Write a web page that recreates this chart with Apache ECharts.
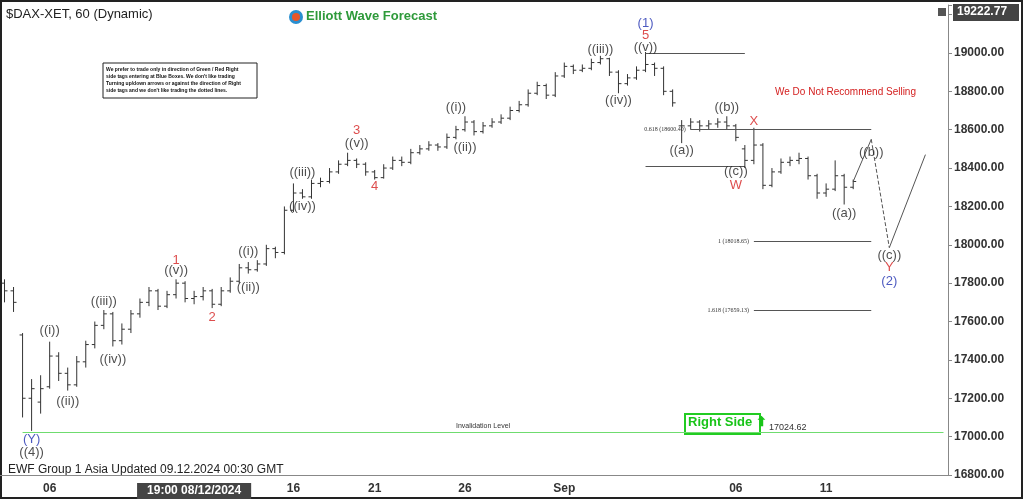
<!DOCTYPE html>
<html lang="en">
<head>
  <meta charset="UTF-8">
  <title>DAX Elliott Wave</title>
  <script src="https://cdn.jsdelivr.net/npm/echarts@6/dist/echarts.min.js"></script>
  <style>
    html, body { margin: 0; padding: 0; background: #fff; }
    #chart { width: 1024px; height: 500px; }
  </style>
</head>
<body>
  <div id="chart"></div>
<script>
  // 每根K线 [open, close, low, high]，按索引排列
  var bars = [
    [17800, 17760, 17700, 17820], [17760, 17700, 17650, 17780], [17530, 17200, 17100, 17540],
    [17200, 17250, 17030, 17300], [17180, 17250, 17120, 17320], [17260, 17420, 17250, 17495],
    [17420, 17330, 17290, 17440], [17330, 17270, 17240, 17360], [17270, 17390, 17260, 17420],
    [17390, 17480, 17360, 17500], [17480, 17580, 17460, 17600], [17580, 17640, 17560, 17660],
    [17640, 17500, 17470, 17650], [17500, 17560, 17480, 17590], [17560, 17640, 17540, 17660],
    [17640, 17700, 17620, 17720], [17700, 17760, 17680, 17780], [17760, 17680, 17660, 17770],
    [17680, 17740, 17670, 17760], [17740, 17800, 17720, 17820], [17800, 17720, 17700, 17810],
    [17720, 17730, 17690, 17760], [17730, 17760, 17710, 17780], [17760, 17690, 17670, 17770],
    [17690, 17760, 17680, 17780], [17760, 17810, 17750, 17830], [17810, 17880, 17800, 17900],
    [17880, 17870, 17850, 17910], [17870, 17900, 17860, 17920], [17900, 17980, 17890, 18000],
    [17980, 17960, 17930, 17990], [17960, 18180, 17950, 18200], [18180, 18270, 18170, 18320],
    [18270, 18250, 18240, 18290], [18250, 18320, 18240, 18340], [18320, 18330, 18300, 18350],
    [18330, 18380, 18320, 18400], [18380, 18420, 18370, 18440], [18420, 18440, 18410, 18480],
    [18440, 18420, 18400, 18450], [18420, 18380, 18360, 18430], [18380, 18350, 18340, 18390],
    [18350, 18400, 18345, 18420], [18400, 18440, 18390, 18460], [18440, 18430, 18410, 18460],
    [18430, 18480, 18420, 18500], [18480, 18500, 18470, 18520], [18500, 18520, 18490, 18540],
    [18520, 18510, 18490, 18530], [18510, 18560, 18500, 18580], [18560, 18600, 18550, 18620],
    [18600, 18640, 18590, 18670], [18640, 18590, 18570, 18650], [18590, 18620, 18580, 18640],
    [18620, 18640, 18610, 18660], [18640, 18660, 18630, 18680], [18660, 18700, 18650, 18720],
    [18700, 18730, 18690, 18750], [18730, 18790, 18720, 18810], [18790, 18830, 18780, 18850],
    [18830, 18780, 18760, 18840], [18780, 18880, 18770, 18900], [18880, 18930, 18870, 18950],
    [18930, 18910, 18890, 18940], [18910, 18920, 18900, 18940], [18920, 18950, 18910, 18970],
    [18950, 18970, 18940, 18985], [18970, 18900, 18880, 18975], [18900, 18840, 18790, 18910],
    [18840, 18870, 18830, 18890], [18870, 18910, 18860, 18930], [18910, 18940, 18900, 19005],
    [18940, 18920, 18880, 18950], [18920, 18800, 18780, 18930], [18800, 18740, 18720, 18810],
    [18620, 18620, 18530, 18650], [18620, 18640, 18600, 18660], [18640, 18620, 18590, 18650],
    [18620, 18630, 18600, 18650], [18630, 18640, 18610, 18660], [18640, 18620, 18600, 18670],
    [18620, 18560, 18540, 18630], [18500, 18440, 18400, 18520], [18440, 18520, 18420, 18610],
    [18520, 18310, 18290, 18530], [18310, 18380, 18300, 18400], [18380, 18430, 18370, 18450],
    [18430, 18440, 18410, 18460], [18440, 18450, 18420, 18480], [18450, 18360, 18340, 18460],
    [18360, 18270, 18240, 18370], [18270, 18290, 18250, 18320], [18290, 18360, 18280, 18440],
    [18360, 18300, 18210, 18370], [18300, 18330, 18290, 18340]
  ];
  var slotCount = 105;
  var xLabels = { 5: '06', 32: '16', 41: '21', 51: '26', 62: 'Sep', 81: '06', 91: '11' };
  var cursorIndex = 21;
  var cursorText = '19:00 08/12/2024';
  var yTicks = [16800, 17000, 17200, 17400, 17600, 17800, 18000, 18200, 18400, 18600, 18800, 19000];

  // 预测路径
  var projA = [[94, 18330], [96, 18550]];
  var projB = [[96, 18550], [98, 17985]];
  var projC = [[98, 17985], [101.5, 18470]];

  // 浪标注 [索引, 价格, 文本, 颜色]
  var waveLabels = [
    [3.4, 16985, '(Y)', 'blue'], [3.4, 16917, '((4))', 'black'],
    [5.3, 17552, '((i))', 'black'], [7, 17182, '((ii))', 'black'],
    [10.6, 17703, '((iii))', 'black'], [12, 17401, '((iv))', 'black'],
    [18.7, 17917, '1', 'red'], [18.7, 17865, '((v))', 'black'],
    [22.8, 17620, '2', 'red'], [26.6, 17964, '((i))', 'black'], [27.2, 17776, '((ii))', 'black'],
    [32.5, 18375, '((iii))', 'black'], [33.3, 18198, '((iv))', 'black'],
    [38.5, 18594, '3', 'red'], [38.5, 18531, '((v))', 'black'], [40.9, 18302, '4', 'red'],
    [50.3, 18714, '((i))', 'black'], [51.4, 18510, '((ii))', 'black'],
    [66.1, 19016, '((iii))', 'black'], [67.8, 18750, '((iv))', 'black'],
    [71.2, 19156, '(1)', 'blue'], [71.2, 19089, '5', 'red'], [71.2, 19031, '((v))', 'black'],
    [74.6, 18490, '((a))', 'black'], [79.9, 18714, '((b))', 'black'],
    [82.9, 18641, 'X', 'red'], [81.2, 18380, '((c))', 'black'], [81.2, 18307, 'W', 'red'],
    [95.7, 18484, '((b))', 'black'], [93.3, 18161, '((a))', 'black'],
    [97.6, 17943, '((c))', 'black'], [97.6, 17880, 'Y', 'red'], [97.6, 17807, '(2)', 'blue']
  ];

  // 水平参考线 [起点索引, 终点索引, 价格, 左侧文字]
  var levels = [
    [71, 82, 19000, ''], [71, 82, 18412, ''],
    [76, 95.5, 18600.40, '0.618 (18600.40)'],
    [82.5, 95.5, 18018.65, '1 (18018.65)'],
    [82.5, 95.5, 17659.13, '1.618 (17659.13)']
  ];
  var invalidation = 17024.62;
  var lastPrice = 19222.77;

  var categories = [];
  for (var i = 0; i < slotCount; i++) categories.push(i);

  var colorMap = { blue: '#1f2fb0', red: '#d42020', black: '#222' };
  var font = 'Liberation Sans, Arial, sans-serif';

  function renderOHLC(params, api) {
    var x = api.value(0);
    var o = api.coord([x, api.value(1)]);
    var c = api.coord([x, api.value(2)]);
    var l = api.coord([x, api.value(3)]);
    var h = api.coord([x, api.value(4)]);
    var st = { stroke: '#333', lineWidth: 1 };
    return {
      type: 'group',
      children: [
        { type: 'line', shape: { x1: l[0], y1: l[1], x2: h[0], y2: h[1] }, style: st },
        { type: 'line', shape: { x1: o[0] - 3, y1: o[1], x2: o[0], y2: o[1] }, style: st },
        { type: 'line', shape: { x1: c[0], y1: c[1], x2: c[0] + 3, y2: c[1] }, style: st }
      ]
    };
  }

  var levelLines = levels.map(function (lv) {
    return [
      { coord: [lv[0], lv[2]], label: { show: !!lv[3], formatter: lv[3], position: 'start', fontSize: 6, color: '#333', fontFamily: 'Liberation Serif' } },
      { coord: [lv[1], lv[2]] }
    ];
  });

  var option = {
    animation: false,
    backgroundColor: '#fff',
    grid: { left: 0, right: 76, top: 5, bottom: 25, containLabel: false },
    xAxis: {
      type: 'category',
      data: categories,
      boundaryGap: true,
      axisLine: { lineStyle: { color: '#888' } },
      axisTick: { show: false },
      splitLine: { show: false },
      axisLabel: {
        interval: 0,
        fontSize: 12,
        fontWeight: 'bold',
        color: '#333',
        fontFamily: font,
        margin: 8,
        formatter: function (v) {
          if (+v === cursorIndex) return '{cur|' + cursorText + '}';
          return xLabels[v] || '';
        },
        rich: {
          cur: { backgroundColor: '#444', color: '#fff', padding: [2, 10], fontSize: 12, fontFamily: font }
        }
      }
    },
    yAxis: {
      type: 'value',
      position: 'right',
      min: 16800,
      max: 19250,
      interval: 200,
      axisLine: { show: true, lineStyle: { color: '#888' } },
      axisTick: { show: true, length: 4, lineStyle: { color: '#888' } },
      splitLine: { show: false },
      axisLabel: {
        fontSize: 12,
        fontWeight: 'bold',
        color: '#333',
        fontFamily: font,
        margin: 6,
        formatter: function (v) { return yTicks.indexOf(v) >= 0 ? v.toFixed(2) : ''; }
      }
    },
    series: [
      {
        type: 'custom',
        renderItem: renderOHLC,
        encode: { x: 0, y: [1, 2, 3, 4] },
        data: bars.map(function (b, idx) { return [idx, b[0], b[1], b[2], b[3]]; }),
        markLine: {
          silent: true,
          symbol: 'none',
          lineStyle: { color: '#555', width: 1, type: 'solid' },
          data: levelLines
        },
        z: 3
      },
      {
        type: 'line',
        data: projA, symbol: 'none',
        lineStyle: { color: '#555', width: 1 }
      },
      {
        type: 'line',
        data: projB, symbol: 'none',
        lineStyle: { color: '#555', width: 1, type: 'dashed' }
      },
      {
        type: 'line',
        data: projC, symbol: 'none',
        lineStyle: { color: '#555', width: 1 },
        markLine: {
          silent: true,
          symbol: 'none',
          lineStyle: { color: '#6fdc6f', width: 1, type: 'solid' },
          label: { show: false },
          data: [[{ coord: [2, invalidation], label: { show: true, formatter: 'Invalidation Level', position: 'middle', fontSize: 7, color: '#333', distance: 2 } }, { coord: [104, invalidation] }]]
        }
      },
      {
        type: 'scatter',
        symbolSize: 0,
        data: waveLabels.map(function (w) {
          return {
            value: [w[0], w[1]],
            label: {
              show: true, position: 'inside', formatter: w[2],
              color: colorMap[w[3]], fontSize: 13, fontFamily: font
            }
          };
        }),
        z: 5
      }
    ],
    graphic: [
      { type: 'text', left: 6, top: 8, style: { text: '$DAX-XET, 60 (Dynamic)', font: '13px ' + font, fill: '#222' } },
      { type: 'circle', shape: { cx: 296, cy: 17, r: 7 }, style: { fill: '#2a8fd0' } },
      { type: 'circle', shape: { cx: 296, cy: 17, r: 4 }, style: { fill: '#e8572a' } },
      { type: 'text', left: 306, top: 10, style: { text: 'Elliott Wave Forecast', font: 'bold 13px ' + font, fill: '#2e9a3a' } },
      { type: 'rect', shape: { x: 103, y: 63, width: 154, height: 35 }, style: { fill: '#fff', stroke: '#222', lineWidth: 1 } },
      { type: 'text', left: 106, top: 66, style: { text: 'We prefer to trade only in direction of Green / Red Right\nside tags entering at Blue Boxes. We don\'t like trading\nTurning up/down arrows or against the direction of Right\nside tags and we don\'t like trading the dotted lines.', font: 'bold 5px ' + font, fill: '#111', lineHeight: 7 } },
      { type: 'text', left: 775, top: 87, style: { text: 'We Do Not Recommend Selling', font: '10px ' + font, fill: '#d42020' } },
      { type: 'rect', shape: { x: 685, y: 414, width: 75, height: 20 }, style: { fill: '#fff', stroke: '#22cc22', lineWidth: 2 } },
      { type: 'text', left: 688, top: 416, style: { text: 'Right Side \u2B06', font: 'bold 13px ' + font, fill: '#19c419' } },
      { type: 'text', left: 769, top: 423, style: { text: invalidation.toFixed(2), font: '9px ' + font, fill: '#333' } },
      { type: 'text', left: 8, top: 464, style: { text: 'EWF Group 1 Asia Updated 09.12.2024 00:30 GMT', font: '12px ' + font, fill: '#222' } },
      { type: 'rect', shape: { x: 938, y: 8, width: 8, height: 8 }, style: { fill: '#555' } },
      { type: 'rect', shape: { x: 953, y: 4, width: 66, height: 17 }, style: { fill: '#444' } },
      { type: 'text', left: 957, top: 6, style: { text: lastPrice.toFixed(2), font: 'bold 12px ' + font, fill: '#fff' } },
      { type: 'rect', shape: { x: 1, y: 1, width: 1021, height: 497 }, style: { fill: 'none', stroke: '#222', lineWidth: 2 } }
    ]
  };

  var chart = echarts.init(document.getElementById('chart'));
  chart.setOption(option);
</script>
</body>
</html>
